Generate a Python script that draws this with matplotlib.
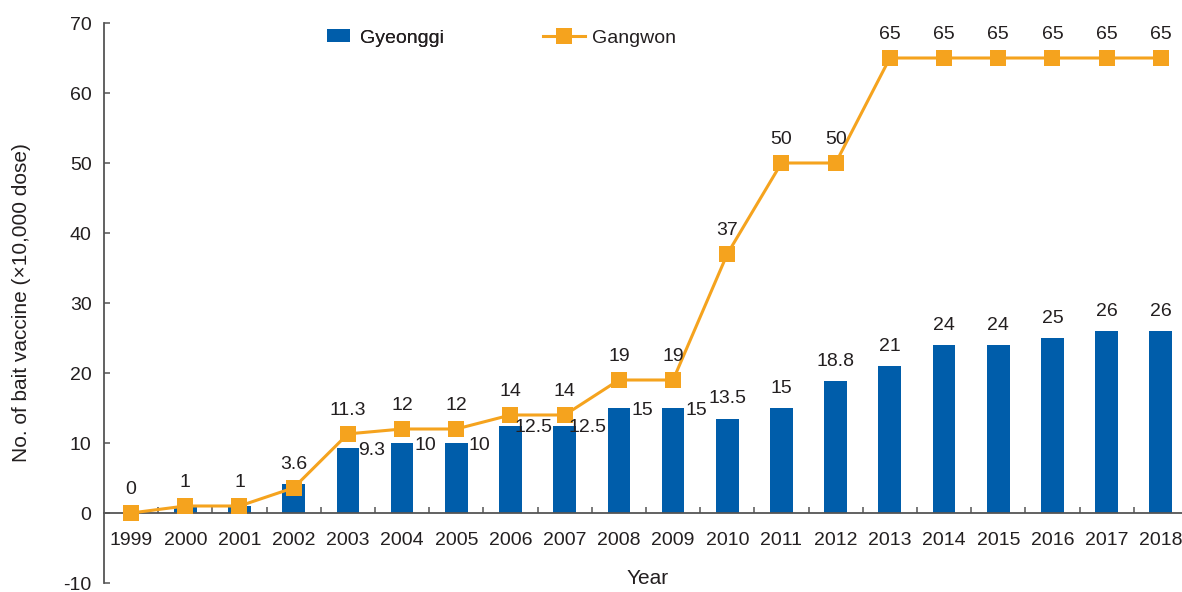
import matplotlib
matplotlib.use("Agg")
import matplotlib.pyplot as plt
from matplotlib.patches import Patch
from matplotlib.lines import Line2D

years = ["1999", "2000", "2001", "2002", "2003", "2004", "2005", "2006", "2007", "2008",
         "2009", "2010", "2011", "2012", "2013", "2014", "2015", "2016", "2017", "2018"]
gyeonggi = [0, 1, 1, 4.2, 9.3, 10, 10, 12.5, 12.5, 15, 15, 13.5, 15, 18.8, 21, 24, 24, 25, 26, 26]
gyeonggi_labels = ["", "", "", "", "9.3", "10", "10", "12.5", "12.5", "15", "15", "13.5", "15",
                   "18.8", "21", "24", "24", "25", "26", "26"]
gangwon = [0, 1, 1, 3.6, 11.3, 12, 12, 14, 14, 19, 19, 37, 50, 50, 65, 65, 65, 65, 65, 65]
gangwon_labels = ["0", "1", "1", "3.6", "11.3", "12", "12", "14", "14", "19", "19", "37", "50",
                  "50", "65", "65", "65", "65", "65", "65"]
y_ticks = [-10, 0, 10, 20, 30, 40, 50, 60, 70]

BLUE = "#005DAA"
ORANGE = "#F5A31E"
TXT = "#231F20"
AX = "#555555"

plt.rcParams['font.family'] = ['Liberation Sans', 'DejaVu Sans']
FS = 14

fig = plt.figure(figsize=(11.82, 5.92), dpi=100)
ax = fig.add_axes([104 / 1182, 1 - 583 / 592, 1 - 104 / 1182, (583 - 23) / 592])

x = list(range(len(years)))
ax.bar(x, gyeonggi, width=0.42, color=BLUE, zorder=2)
ax.plot(x, gangwon, color=ORANGE, lw=2.2, marker='s', markersize=11.5,
        markeredgewidth=0, zorder=3, clip_on=False)

for i, (v, lab) in enumerate(zip(gangwon, gangwon_labels)):
    ax.annotate(lab, (i, v), xytext=(0, 13.7), textcoords='offset points',
                ha='center', va='baseline', fontsize=FS, color=TXT)

for i, (v, lab) in enumerate(zip(gyeonggi, gyeonggi_labels)):
    if not lab:
        continue
    if 4 <= i <= 10:
        ax.annotate(lab, (i + 0.43, v), xytext=(0, -5), textcoords='offset points',
                    ha='center', va='baseline', fontsize=FS, color=TXT, zorder=4)
    else:
        ax.annotate(lab, (i, v), xytext=(0, 11), textcoords='offset points',
                    ha='center', va='baseline', fontsize=FS, color=TXT)

ax.set_xlim(-0.5, 19.39)
ax.set_ylim(-10, 70)
ax.set_yticks(y_ticks)
ax.set_yticklabels([str(t) for t in y_ticks])
ax.set_xticks(x)
ax.set_xticklabels(years)
ax.set_xticks([i + 0.5 for i in range(len(years) - 1)], minor=True)

ax.spines['top'].set_visible(False)
ax.spines['right'].set_visible(False)
ax.spines['bottom'].set_position(('data', 0))
for s in ('left', 'bottom'):
    ax.spines[s].set_color(AX)
    ax.spines[s].set_linewidth(1.3)

ax.tick_params(axis='x', which='major', length=0, pad=14, labelsize=FS, labelcolor=TXT)
ax.tick_params(axis='x', which='minor', direction='in', length=4.5, width=1.1, color=AX)
ax.tick_params(axis='y', direction='in', length=4.5, width=1.1, color=AX, pad=9,
               labelsize=FS, labelcolor=TXT)

ax.set_ylabel("No. of bait vaccine (\u00d710,000 dose)", fontsize=15, color=TXT)
ax.yaxis.set_label_coords(-0.068, 0.5)
fig.text(648 / 1182, 1 - 578 / 592, "Year", fontsize=15, color=TXT, ha='center', va='center')

leg1 = fig.legend(handles=[Patch(facecolor=BLUE, edgecolor='none', label='Gyeonggi')],
                  loc='center left', bbox_to_anchor=(327 / 1182, 1 - 38 / 592),
                  bbox_transform=fig.transFigure, frameon=False, fontsize=FS,
                  handlelength=1.2, handleheight=0.62, handletextpad=0.5,
                  borderpad=0, borderaxespad=0, labelcolor=TXT)
fig.add_artist(leg1)
fig.legend(handles=[Line2D([0], [0], color=ORANGE, lw=2.2, marker='s', markersize=11.5,
                           markeredgewidth=0, label='Gangwon')],
           loc='center left', bbox_to_anchor=(543 / 1182, 1 - 38 / 592),
           bbox_transform=fig.transFigure, frameon=False, fontsize=FS,
           handlelength=2.16, handletextpad=0.36, borderpad=0, borderaxespad=0,
           labelcolor=TXT)

fig.savefig("out.png", dpi=100)
